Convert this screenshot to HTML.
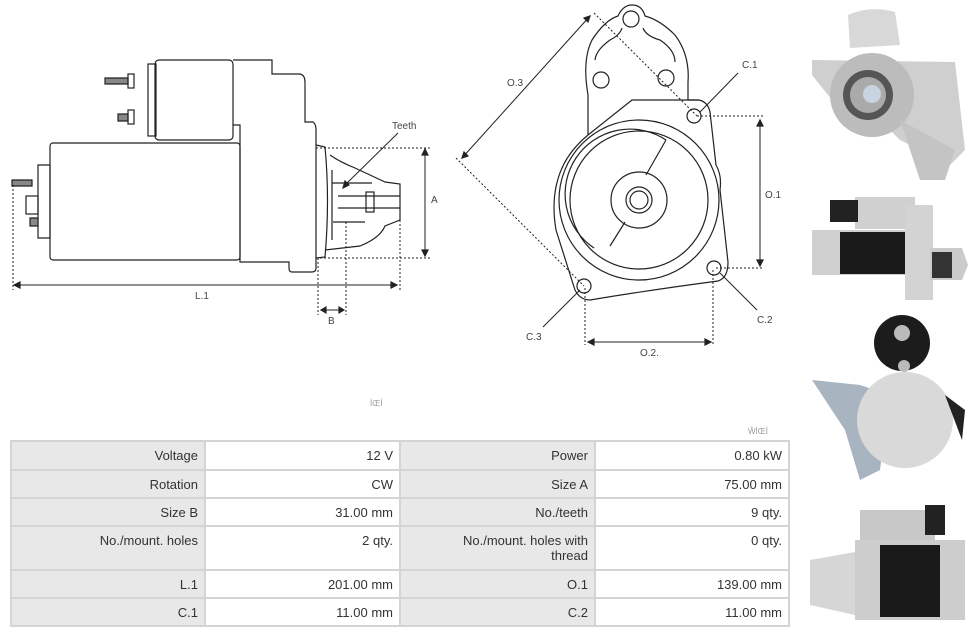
<!DOCTYPE html>
<html><head><meta charset="utf-8"><style>
body{margin:0;width:975px;height:636px;background:#fff;overflow:hidden;position:relative;font-family:"Liberation Sans",sans-serif}
svg{position:absolute;left:0;top:0}
table{position:absolute;left:10px;top:440px;border-collapse:collapse;font-size:13px;color:#333;table-layout:fixed;width:778px}
td{border:2px solid #d4d4d4;text-align:right;padding:6px 6px 0 6px;vertical-align:top;line-height:15px;overflow:hidden}
td.l{background:#e8e8e8}
td.v{background:#fff}
</style></head><body>
<svg width="975" height="636" viewBox="0 0 975 636" fill="none" stroke="#222" stroke-width="1.2" font-family="Liberation Sans" font-size="10">
<rect x="50" y="143" width="190" height="117" rx="3"/>
<path d="M38 165 L50 165 L50 238 L38 238 Z"/>
<rect x="26" y="196" width="12" height="18"/>
<path d="M12 180 H32 V186 H12 Z M30 218 H38 V226 H30 Z" fill="#888"/>
<rect x="155" y="60" width="78" height="80" rx="4"/>
<rect x="148" y="64" width="8" height="72"/>
<path d="M105 78 H128 V84 H105 Z M118 114 H128 V121 H118 Z" fill="#888"/>
<rect x="128" y="74" width="6" height="14"/><rect x="128" y="110" width="6" height="14"/>
<path d="M233 60 H272 V74 H300 Q305 75 305 82 V122 H313 Q316 124 316 130 V268 Q316 272 312 272 H292 Q289 272 289 268 V262 H240 V125 H233"/>
<path d="M316 145 L325 147 Q330 200 325 257 L316 258"/>
<path d="M330 155 Q340 162 355 168 L385 182 L400 184 V220 L385 226 Q380 238 360 246 L325 250"/>
<path d="M332 170 V240 M332 183 H372 M338 196 H400 M338 208 H400 M333 222 H365"/>
<rect x="366" y="192" width="8" height="20"/>
<g stroke-dasharray="2,2" stroke-width="1">
<path d="M13 185 V290 M316 148 H432 M316 258 H432 M400 220 V290 M318 258 V315 M346 222 V315"/>
</g>
<path d="M14 285 H397 M425 149 V256 M321 310 H344" stroke-width="1"/>
<path d="M14 285 l6 -3 v6z M397 285 l-6 -3 v6z M425 149 l-3 6 h6z M425 256 l-3 -6 h6z M321 310 l5 -3 v6z M344 310 l-5 -3 v6z" fill="#222"/>
<path d="M398 133 L345 185" stroke-width="1"/><path d="M343 188 l2 -7 l4 4z" fill="#222"/>
<g fill="#444" stroke="none" font-size="10"><text x="392" y="129">Teeth</text><text x="431" y="203">A</text><text x="195" y="299">L.1</text><text x="328" y="324">B</text></g>
<path d="M588 135 V95 Q582 60 592 40 Q605 20 618 16 Q623 5 632 5 Q642 5 645 16 Q660 20 675 35 Q690 55 688 82 V100 L699 100 Q708 102 710 112 L716 165 Q722 175 720 190 L728 262 Q728 278 718 281 Q650 290 590 300 Q580 300 575 290 L556 230 Q550 195 562 168 Q570 150 588 135"/>
<path d="M588 135 L632 100 L698 100"/>
<path d="M595 60 Q596 50 610 40 Q620 35 622 28 M643 28 Q646 36 660 40 Q675 50 675 62"/>
<circle cx="631" cy="19" r="8"/><circle cx="601" cy="80" r="8"/><circle cx="666" cy="78" r="8"/>
<circle cx="639" cy="200" r="80"/><circle cx="639" cy="200" r="69"/>
<path d="M666 140 A60 60 0 0 0 594 248"/><path d="M666 140 L646 175 M610 246 L625 222"/>
<circle cx="639" cy="200" r="28"/><circle cx="639" cy="200" r="13"/><circle cx="639" cy="200" r="9"/>
<circle cx="694" cy="116" r="7"/><circle cx="714" cy="268" r="7"/><circle cx="584" cy="286" r="7"/>
<g stroke-dasharray="2,2" stroke-width="1">
<path d="M594 13 L697 116 M456 158 L584 286 M697 116 H763 M716 268 H763 M585 288 V345 M713 270 V345"/>
</g>
<path d="M760 120 V266 M588 342 H711 M590 16 L462 158" stroke-width="1"/>
<path d="M760 120 l-3 6 h6z M760 266 l-3 -6 h6z M588 342 l6 -3 v6z M711 342 l-6 -3 v6z M590 16 l-2 6 l-4 -4z M462 158 l2 -6 l4 4z" fill="#222"/>
<path d="M738 73 L700 112 M757 310 L720 273 M543 327 L580 290" stroke-width="1"/>
<g fill="#444" stroke="none"><text x="742" y="68">C.1</text><text x="765" y="198">O.1</text><text x="757" y="323">C.2</text><text x="640" y="356">O.2.</text><text x="526" y="340">C.3</text><text x="507" y="86">O.3</text></g>
<g stroke="none">
<path d="M812 60 L955 62 L965 150 L950 165 L900 140 L880 120 L840 110 L812 75Z" fill="#cfcfcf"/>
<path d="M848 15 Q870 5 895 12 L900 45 L850 48Z" fill="#d8d8d8"/>
<circle cx="872" cy="95" r="42" fill="#bcbcbc"/><circle cx="868" cy="95" r="25" fill="#555"/><circle cx="868" cy="95" r="18" fill="#aaa"/><circle cx="872" cy="94" r="9" fill="#c8d4e0"/>
<path d="M900 120 L955 150 L945 180 L920 180Z" fill="#c4c4c4"/>
<rect x="855" y="197" width="60" height="32" fill="#d0d0d0"/><rect x="830" y="200" width="28" height="22" fill="#222"/>
<rect x="812" y="230" width="100" height="45" fill="#cfcfcf"/><rect x="840" y="232" width="65" height="42" fill="#1a1a1a"/>
<rect x="905" y="205" width="28" height="95" fill="#d3d3d3"/><path d="M930 248 H962 L968 265 L962 280 H930Z" fill="#cbcbcb"/><rect x="932" y="252" width="20" height="26" fill="#333"/>
<path d="M812 380 L860 385 L890 395 L880 470 L860 480 L845 430Z" fill="#a8b4c0"/>
<circle cx="902" cy="343" r="28" fill="#1c1c1c"/><circle cx="902" cy="333" r="8" fill="#bbb"/><circle cx="904" cy="366" r="6" fill="#bbb"/>
<circle cx="905" cy="420" r="48" fill="#d9d9d9"/><path d="M945 395 L965 410 L962 440Z" fill="#222"/>
<rect x="860" y="510" width="75" height="30" fill="#c8c8c8"/><rect x="925" y="505" width="20" height="30" fill="#222"/>
<rect x="855" y="540" width="110" height="80" fill="#cdcdcd"/><rect x="880" y="545" width="60" height="72" fill="#1a1a1a"/>
<path d="M810 560 L855 552 V615 L810 605Z" fill="#d6d6d6"/>
</g>
<g fill="#999" stroke="none" font-size="8"><text x="370" y="406">ÍŒÍ</text><text x="748" y="434">ŴÍŒÍ</text></g>
</svg>
<table>
<colgroup><col style="width:194px"><col style="width:195px"><col style="width:195px"><col style="width:194px"></colgroup>
<tr style="height:29px"><td class="l">Voltage</td><td class="v">12 V</td><td class="l">Power</td><td class="v">0.80 kW</td></tr>
<tr style="height:28px"><td class="l">Rotation</td><td class="v">CW</td><td class="l">Size A</td><td class="v">75.00 mm</td></tr>
<tr style="height:28px"><td class="l">Size B</td><td class="v">31.00 mm</td><td class="l">No./teeth</td><td class="v">9 qty.</td></tr>
<tr style="height:44px"><td class="l">No./mount. holes</td><td class="v">2 qty.</td><td class="l">No./mount. holes with<br>thread</td><td class="v">0 qty.</td></tr>
<tr style="height:28px"><td class="l">L.1</td><td class="v">201.00 mm</td><td class="l">O.1</td><td class="v">139.00 mm</td></tr>
<tr style="height:28px"><td class="l">C.1</td><td class="v">11.00 mm</td><td class="l">C.2</td><td class="v">11.00 mm</td></tr>
</table>
</body></html>
